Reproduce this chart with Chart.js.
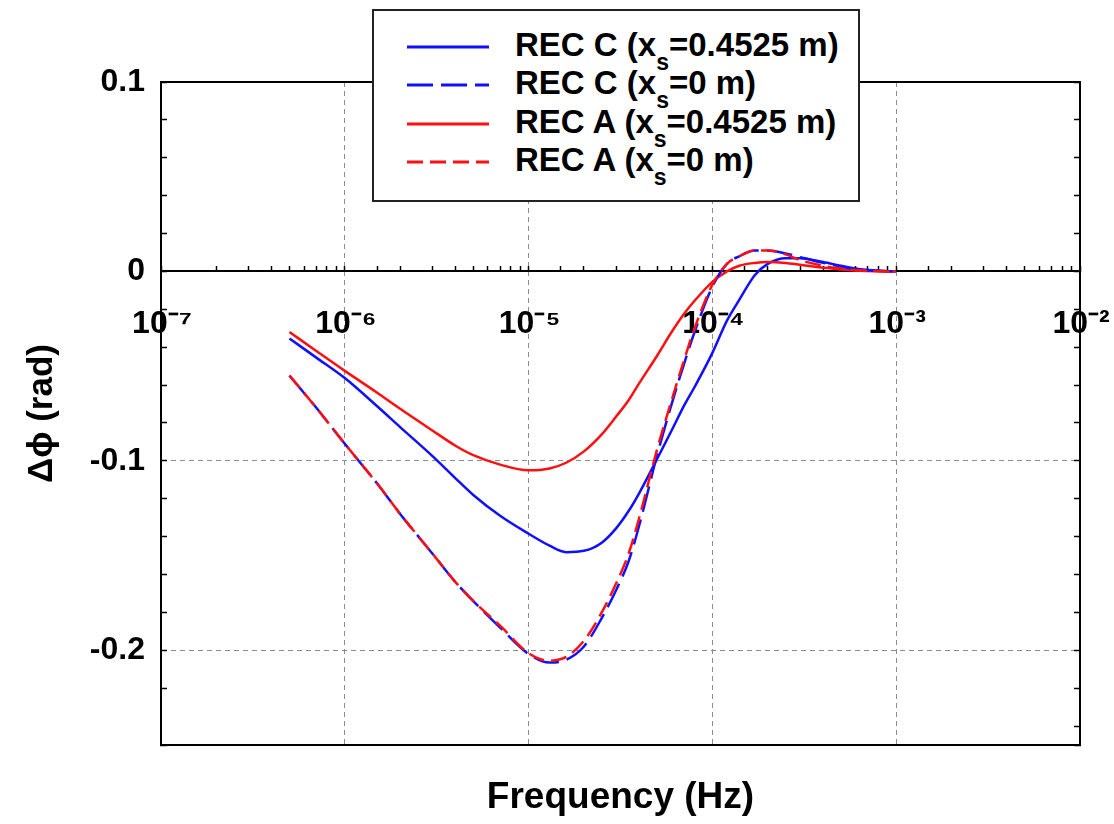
<!DOCTYPE html>
<html>
<head>
<meta charset="utf-8">
<script src="https://cdn.jsdelivr.net/npm/chart.js@4.4.1/dist/chart.umd.min.js"></script>
<style>
  body { margin: 0; background: #fff; }
  #wrap { position: relative; width: 1114px; height: 824px; }
  #legend {
    position: absolute; left: 372px; top: 9px; width: 484px; height: 189px;
    border: 2px solid #222; background: #fff;
    font: bold 33px "Liberation Sans", Arial, sans-serif; color: #000;
  }
  #legend ul { list-style: none; margin: 0; padding: 0; position: absolute; left: 0; top: 15px; width: 100%; }
  #legend li { position: relative; height: 38.3px; line-height: 38px; white-space: nowrap; }
  #legend svg { position: absolute; left: 33px; top: 16px; }
  #legend span { position: absolute; left: 141px; top: 0; }
  #legend sub { font-size: 23px; vertical-align: baseline; position: relative; top: 14px; }
</style>
</head>
<body>
<div id="wrap">
  <canvas id="chart" width="1114" height="824"></canvas>
  <div id="legend"><ul></ul></div>
</div>
<script>
// frequency (Hz) shared by all four curves
const freqHz = [5e-7, 7e-7, 1e-6, 1.5e-6, 2e-6, 3e-6, 4e-6, 5e-6, 7e-6, 1e-5,
  1.3e-5, 1.6e-5, 2e-5, 2.5e-5, 3e-5, 3.5e-5, 4e-5, 5e-5, 6e-5, 7e-5, 8e-5,
  1e-4, 1.2e-4, 1.4e-4, 1.7e-4, 2e-4, 2.5e-4, 3e-4, 4e-4, 5e-4, 6e-4, 8e-4, 1e-3];

// delta phi (rad)
const recC_far = [-0.0354, -0.0455, -0.0563, -0.0712, -0.0822, -0.0975, -0.1092, -0.118, -0.129, -0.1385,
  -0.1448, -0.1482, -0.1475, -0.1432, -0.1355, -0.1265, -0.117, -0.099, -0.084, -0.071, -0.061,
  -0.043, -0.026, -0.015, -0.002, 0.004, 0.007, 0.007, 0.005, 0.003, 0.0015, 0.0003, 0];
const recC_zero = [-0.055, -0.072, -0.091, -0.112, -0.128, -0.149, -0.164, -0.174, -0.188, -0.202,
  -0.2065, -0.205, -0.198, -0.183, -0.168, -0.153, -0.134, -0.097, -0.070, -0.049, -0.032,
  -0.008, 0.004, 0.008, 0.011, 0.011, 0.0095, 0.0075, 0.0045, 0.0025, 0.0012, 0.0003, 0];
const recA_far = [-0.032, -0.042, -0.0525, -0.064, -0.0725, -0.084, -0.092, -0.097, -0.102, -0.105,
  -0.104, -0.101, -0.095, -0.086, -0.0765, -0.068, -0.059, -0.0445, -0.032, -0.0225, -0.0155,
  -0.0055, 0.0, 0.003, 0.0045, 0.005, 0.0045, 0.0035, 0.002, 0.001, 0.0005, 0.0001, 0];
const recA_zero = [-0.055, -0.072, -0.091, -0.112, -0.128, -0.149, -0.164, -0.174, -0.187, -0.2015,
  -0.2055, -0.2035, -0.195, -0.180, -0.1645, -0.149, -0.130, -0.094, -0.068, -0.047, -0.030,
  -0.007, 0.004, 0.008, 0.011, 0.011, 0.009, 0.006, 0.003, 0.0015, 0.0007, 0.0001, 0];

const seriesLabels = ['REC C (x\u209B=0.4525 m)', 'REC C (x\u209B=0 m)', 'REC A (x\u209B=0.4525 m)', 'REC A (x\u209B=0 m)'];

// tick labels
const xTickExps = [-7, -6, -5, -4, -3, -2];
const yTickLabels = [0.1, 0, -0.1, -0.2];

const supMap = { '-': '\u207B', '0': '\u2070', '1': '\u00B9', '2': '\u00B2', '3': '\u00B3', '4': '\u2074',
  '5': '\u2075', '6': '\u2076', '7': '\u2077', '8': '\u2078', '9': '\u2079' };
const sup = n => String(n).split('').map(c => supMap[c]).join('');

const pts = ys => freqHz.map((f, i) => ({ x: f, y: ys[i] }));
const decadeOf = v => { const e = Math.log10(v); const r = Math.round(e); return Math.abs(e - r) < 1e-6 ? r : null; };
const yLabelOf = v => yTickLabels.find(t => Math.abs(t - v) < 1e-9);

Chart.defaults.font.family = '"Liberation Sans", Arial, sans-serif';
Chart.defaults.color = '#000';

const htmlLegend = {
    id: 'htmlLegend',
    afterUpdate(chart) {
        const ul = document.querySelector('#legend ul');
        ul.innerHTML = '';
        const items = chart.options.plugins.legend.labels.generateLabels(chart);
        items.sort((a, b) => a.datasetIndex - b.datasetIndex);
        items.forEach(item => {
            const li = document.createElement('li');
            const dash = (item.lineDash || []).join(' ');
            li.innerHTML =
                '<svg width="82" height="10"><line x1="0" y1="5" x2="82" y2="5" stroke="' + item.strokeStyle +
                '" stroke-width="3" stroke-dasharray="' + dash + '"/></svg>' +
                '<span>' + item.text.replace('\u209B', '<sub>s</sub>') + '</span>';
            ul.appendChild(li);
        });
    }
};

const gray = '#8c8c8c';

new Chart(document.getElementById('chart').getContext('2d'), {
    type: 'line',
    data: {
        datasets: [
            { label: seriesLabels[0], data: pts(recC_far), borderColor: '#1010ff', borderWidth: 2.5, order: 3 },
            { label: seriesLabels[1], data: pts(recC_zero), borderColor: '#1010ff', borderWidth: 2.5, borderDash: [26, 8], order: 1 },
            { label: seriesLabels[2], data: pts(recA_far), borderColor: '#ff1010', borderWidth: 2.5, order: 2 },
            { label: seriesLabels[3], data: pts(recA_zero), borderColor: '#ff1010', borderWidth: 2.5, borderDash: [16, 7], order: 0 }
        ]
    },
    options: {
        responsive: false,
        animation: false,
        layout: { padding: 0 },
        elements: { point: { radius: 0 }, line: { cubicInterpolationMode: 'monotone', fill: false } },
        plugins: { legend: { display: false }, tooltip: { enabled: false } },
        scales: {
            x: {
                type: 'logarithmic',
                position: { y: 0 },
                min: 1e-7,
                max: 1e-2,
                border: { display: true, color: '#000', width: 2, dash: [5, 4] },
                grid: {
                    color: c => { const d = decadeOf(c.tick.value); return d !== null && d > -7 && d < -2 ? gray : 'rgba(0,0,0,0)'; },
                    lineWidth: 1,
                    drawTicks: true,
                    tickLength: -6,
                    tickColor: '#000',
                    tickWidth: 1.5
                },
                ticks: {
                    autoSkip: false,
                    maxRotation: 0,
                    minRotation: 0,
                    padding: 40,
                    labelOffset: 1,
                    font: { size: 32, weight: 'bold' },
                    callback: v => { const d = decadeOf(v); return d !== null && xTickExps.includes(d) ? '10' + sup(d) : ''; }
                },
                afterFit: s => { s.height = 0; s.paddingLeft = 0; s.paddingRight = 0; s.paddingTop = 0; s.paddingBottom = 0; }
            },
            x2: {
                type: 'linear',
                position: 'bottom',
                min: 0,
                max: 1,
                grid: { display: false },
                ticks: { display: false },
                border: { display: true, color: '#000', width: 2 },
                title: { display: true, text: 'Frequency (Hz)', font: { size: 37, weight: 'bold' }, padding: { top: 0, bottom: 4 } },
                afterFit: s => { s.height = 79; s.paddingLeft = 0; s.paddingRight = 0; }
            },
            x3: {
                type: 'linear',
                position: 'top',
                min: 0,
                max: 1,
                grid: { display: false },
                ticks: { display: false },
                border: { display: true, color: '#000', width: 2 },
                afterFit: s => { s.height = 82; s.paddingLeft = 0; s.paddingRight = 0; }
            },
            y: {
                type: 'linear',
                position: 'left',
                min: -0.25,
                max: 0.1,
                border: { display: true, color: '#000', width: 2, dash: [5, 4] },
                grid: {
                    color: c => { const t = yLabelOf(c.tick.value); return t !== undefined && t < 0 ? gray : 'rgba(0,0,0,0)'; },
                    lineWidth: 1,
                    tickLength: -6,
                    tickColor: '#000',
                    tickWidth: 1.5
                },
                ticks: {
                    stepSize: 0.02,
                    autoSkip: false,
                    padding: 22,
                    font: { size: 32, weight: 'bold' },
                    callback: v => { const t = yLabelOf(v); return t === undefined ? '' : String(t); }
                },
                title: { display: true, text: '\u0394\u03D5 (rad)', font: { size: 35, weight: 'bold' }, padding: { top: 21, bottom: 0 } },
                afterFit: s => { s.width = 161; }
            },
            y2: {
                type: 'linear',
                position: 'right',
                min: -0.25,
                max: 0.1,
                border: { display: true, color: '#000', width: 2 },
                grid: { drawOnChartArea: false, drawTicks: true, tickLength: -6, tickColor: '#000', tickWidth: 1.5 },
                ticks: { display: false, stepSize: 0.02, autoSkip: false },
                afterFit: s => { s.width = 34; }
            }
        }
    },
    plugins: [htmlLegend]
});
</script>
</body>
</html>
